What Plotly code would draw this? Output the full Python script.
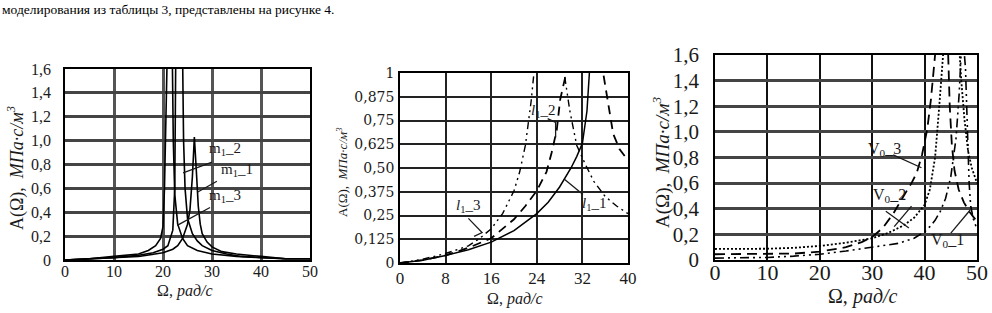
import plotly.graph_objects as go

W, H = 992, 313

# ---------------- data ----------------
# Panel 1: A(Ω) for m1 variants, Ω 0..50 rad/s
m1_2_x = [0, 5, 10, 15, 17, 18.5, 19.5, 20.0, 20.3, 20.5, 20.7, 21.3, 21.9, 22.1, 22.4, 23, 24, 25, 27, 30, 35, 40, 45, 50]
m1_2_y = [0, 0.01, 0.03, 0.05, 0.08, 0.12, 0.18, 0.28, 0.6, 1.0, 1.7, 2.6, 1.7, 1.0, 0.55, 0.3, 0.18, 0.12, 0.08, 0.05, 0.03, 0.02, 0.01, 0.01]
m1_1_x = [0, 5, 10, 15, 18, 20, 21, 22, 22.4, 22.6, 23.3, 24.0, 24.2, 24.5, 25, 26, 27, 28, 30, 33, 36, 40, 45, 50]
m1_1_y = [0, 0.01, 0.02, 0.04, 0.06, 0.09, 0.12, 0.25, 0.6, 1.7, 2.6, 1.7, 1.0, 0.6, 0.35, 0.22, 0.16, 0.12, 0.08, 0.05, 0.03, 0.02, 0.01, 0.01]
m1_3_x = [0, 5, 10, 15, 20, 22, 23, 24, 25, 25.5, 26, 26.4, 26.8, 27.2, 27.6, 28, 29, 30, 32, 35, 40, 45, 50]
m1_3_y = [0, 0.01, 0.02, 0.03, 0.06, 0.09, 0.12, 0.18, 0.3, 0.42, 0.7, 1.03, 0.75, 0.45, 0.3, 0.22, 0.15, 0.11, 0.07, 0.05, 0.03, 0.01, 0.01]

# Panel 2: A(Ω) for l1 variants, Ω 0..40 rad/s
l1_1_x = [0, 4, 8, 12, 16, 20, 24, 26, 28, 29, 30, 31, 32, 32.8, 33.3, 33.8, 34.5]
l1_1_y = [0, 0.015, 0.04, 0.07, 0.11, 0.17, 0.26, 0.32, 0.4, 0.45, 0.5, 0.56, 0.63, 0.8, 1.0, 1.3, 1.6]
l1_2_x = [0, 4, 8, 12, 16, 18, 20, 22, 24, 25.7, 26.6, 27.5, 28.1, 29, 30, 32, 34, 35.6, 36.5, 37.4, 38.5, 40]
l1_2_y = [0, 0.015, 0.04, 0.08, 0.13, 0.18, 0.23, 0.3, 0.38, 0.48, 0.58, 0.7, 0.86, 0.98, 1.2, 1.5, 1.3, 1.0, 0.85, 0.68, 0.6, 0.54]
l1_3_x = [0, 4, 8, 12, 14, 16, 18, 20, 21, 22, 23, 23.5, 24.5, 26, 27.5, 28.8, 29.8, 31, 32.5, 34, 36, 38, 40]
l1_3_y = [0, 0.02, 0.05, 0.09, 0.13, 0.18, 0.26, 0.38, 0.48, 0.62, 0.85, 1.0, 1.3, 1.5, 1.3, 1.0, 0.8, 0.62, 0.52, 0.43, 0.35, 0.3, 0.26]

# Panel 3: A(Ω) for V0 variants, Ω 0..50 rad/s
v0_1_x = [0, 5, 10, 15, 20, 25, 30, 35, 38, 40, 41, 42, 43, 44, 45, 46, 46.6, 47.2, 47.8, 48.2, 48.5, 48.8, 49.3, 50]
v0_1_y = [0.015, 0.015, 0.02, 0.03, 0.045, 0.07, 0.1, 0.13, 0.17, 0.22, 0.26, 0.31, 0.38, 0.48, 0.65, 0.95, 1.3, 1.8, 1.5, 1.0, 0.6, 0.42, 0.32, 0.24]
v0_2_x = [0, 5, 10, 15, 20, 25, 30, 33, 36, 38, 40, 41, 42, 42.7, 43.3, 44.2, 45, 45.8, 46.5, 47, 47.6, 48.3, 49, 49.6, 50]
v0_2_y = [0.086, 0.086, 0.088, 0.095, 0.11, 0.135, 0.17, 0.21, 0.27, 0.33, 0.43, 0.55, 0.8, 1.15, 1.6, 2.2, 2.4, 2.2, 1.7, 1.4, 1.1, 0.85, 0.72, 0.64, 0.6]
v0_3_x = [0, 5, 10, 15, 20, 25, 28, 30, 32, 34, 36, 37.5, 38.5, 39.5, 40.5, 41.2, 42, 43, 44, 44.5, 44.8, 45.2, 45.7, 46.5, 47.5, 48.5, 50]
v0_3_y = [0.045, 0.045, 0.045, 0.05, 0.065, 0.1, 0.14, 0.18, 0.25, 0.36, 0.5, 0.6, 0.68, 0.82, 1.02, 1.25, 1.6, 2.2, 2.0, 1.6, 1.2, 0.9, 0.7, 0.55, 0.45, 0.38, 0.3]

# tick labels
p1_xticks = [0, 10, 20, 30, 40, 50]
p1_yticks = [0, 0.2, 0.4, 0.6, 0.8, 1.0, 1.2, 1.4, 1.6]
p1_ylabels = ["0", "0,2", "0,4", "0,6", "0,8", "1,0", "1,2", "1,4", "1,6"]
p2_xticks = [0, 8, 16, 24, 32, 40]
p2_yticks = [0, 0.125, 0.25, 0.375, 0.5, 0.625, 0.75, 0.875, 1]
p2_ylabels = ["0", "0,125", "0,25", "0,375", "0,50", "0,625", "0,75", "0,875", "1"]
p3_xticks = [0, 10, 20, 30, 40, 50]
p3_yticks = p1_yticks
p3_ylabels = p1_ylabels

# curve labels: (text, text x, text y, pointer polyline xs, ys)
p1_labels = [
    ("m<sub>1</sub>_2", 32.6, 0.93, [30.0, 24.1], [0.82, 0.73]),
    ("m<sub>1</sub>_1", 35.0, 0.75, [31.0, 27.1], [0.66, 0.57]),
    ("m<sub>1</sub>_3", 32.6, 0.54, [29.6, 22.9], [0.44, 0.29]),
]
p2_labels = [
    ("<i>l</i><sub>1</sub>_2", 25.0, 0.80, [25.9, 27.3, 27.3], [0.76, 0.74, 0.66]),
    ("<i>l</i><sub>1</sub>_1", 34.0, 0.31, [32.1, 28.9], [0.36, 0.44]),
    ("<i>l</i><sub>1</sub>_3", 12.0, 0.30, [12.0, 14.4, 13.0], [0.235, 0.16, 0.14]),
]
p3_labels = [
    ("V<sub>0</sub>_3", 32.3, 0.86, [34.0, 39.4], [0.82, 0.72]),
    ("V<sub>0</sub>_2", 33.3, 0.50, [32.6, 37.0, None, 34.2, 37.5], [0.38, 0.25, None, 0.26, 0.42]),
    ("V<sub>0</sub>_1", 44.4, 0.15, [45.0, 48.7], [0.21, 0.39]),
]

# ---------------- figure ----------------
SERIF = "Liberation Serif, Times New Roman, serif"
INK = "#1a1a1a"
fig = go.Figure()


def xdom(a, b):
    return [a / W, b / W]


def ydom(top, bot):
    return [1 - bot / H, 1 - top / H]


def add_curve(xs, ys, xa, ya, dash, width=1.5):
    fig.add_trace(go.Scatter(x=xs, y=ys, xaxis=xa, yaxis=ya, mode="lines",
                             line=dict(color="black", width=width, dash=dash),
                             hoverinfo="skip", showlegend=False))


# panel 1
add_curve(m1_2_x, m1_2_y, "x", "y", "solid", 1.6)
add_curve(m1_1_x, m1_1_y, "x", "y", "solid", 1.6)
add_curve(m1_3_x, m1_3_y, "x", "y", "solid", 1.6)
# panel 2
add_curve(l1_1_x, l1_1_y, "x2", "y2", "solid", 1.5)
add_curve(l1_2_x, l1_2_y, "x2", "y2", "9px,6px", 1.8)
add_curve(l1_3_x, l1_3_y, "x2", "y2", "7px,4px,2px,4px,2px,4px", 1.4)
# panel 3
add_curve(v0_1_x, v0_1_y, "x3", "y3", "9px,4px,2px,4px,2px,4px", 1.6)
add_curve(v0_2_x, v0_2_y, "x3", "y3", "2px,2px", 1.8)
add_curve(v0_3_x, v0_3_y, "x3", "y3", "10px,6px", 1.8)

annotations = []
for labels, xa, ya in [(p1_labels, "x", "y"), (p2_labels, "x2", "y2"), (p3_labels, "x3", "y3")]:
    for text, tx, ty, lx, ly in labels:
        fig.add_trace(go.Scatter(x=lx, y=ly, xaxis=xa, yaxis=ya, mode="lines",
                                 line=dict(color=INK, width=1.3),
                                 hoverinfo="skip", showlegend=False))
        annotations.append(dict(x=tx, y=ty, xref=xa, yref=ya, text=text, showarrow=False,
                                xanchor="center", yanchor="middle",
                                font=dict(family=SERIF, size=16 if xa == "x3" else 15, color=INK)))

axis_common = dict(showgrid=True, zeroline=False, showline=True, mirror=True, automargin=False,
                   linecolor="black", linewidth=1.5, ticks="", color=INK)

fig.update_layout(
    template="none",
    width=W, height=H, margin=dict(l=0, r=0, t=0, b=0, pad=0),
    paper_bgcolor="white", plot_bgcolor="white",
    font=dict(family=SERIF, color=INK),
    xaxis=dict(domain=xdom(65, 310), range=[0, 50], anchor="y",
               tickvals=p1_xticks, ticktext=[str(v) for v in p1_xticks],
               gridcolor="#555", gridwidth=2.5, tickfont=dict(family=SERIF, size=16, color=INK),
               ticklabelstandoff=-4, **axis_common),
    yaxis=dict(domain=ydom(69, 260), range=[0, 1.6], anchor="x",
               tickvals=p1_yticks, ticktext=p1_ylabels,
               gridcolor="#444", gridwidth=2.5, tickfont=dict(family=SERIF, size=16, color=INK),
               ticklabelstandoff=9, **axis_common),
    xaxis2=dict(domain=xdom(400, 628), range=[0, 40], anchor="y2",
                tickvals=p2_xticks, ticktext=[str(v) for v in p2_xticks],
                gridcolor="#222", gridwidth=2, tickfont=dict(family=SERIF, size=17, color=INK),
                ticklabelstandoff=-1, **axis_common),
    yaxis2=dict(domain=ydom(73, 263), range=[0, 1], anchor="x2",
                tickvals=p2_yticks, ticktext=p2_ylabels,
                gridcolor="#222", gridwidth=2, tickfont=dict(family="DejaVu Serif, serif", size=14, color=INK),
                ticklabelstandoff=1, **axis_common),
    xaxis3=dict(domain=xdom(715, 977), range=[0, 50], anchor="y3",
                tickvals=p3_xticks, ticktext=[str(v) for v in p3_xticks],
                gridcolor="#111", gridwidth=2, tickfont=dict(family=SERIF, size=22, color=INK),
                ticklabelstandoff=-8, **axis_common),
    yaxis3=dict(domain=ydom(55, 260), range=[0, 1.6], anchor="x3",
                tickvals=p3_yticks, ticktext=p3_ylabels,
                gridcolor="#444", gridwidth=2.5, tickfont=dict(family=SERIF, size=21, color=INK),
                ticklabelstandoff=10, **axis_common),
)

# axis titles and caption as paper annotations
ytitle = "A(Ω),  <i>МПа·с/м<sup>3</sup></i>"
xtitle = "Ω, <i>рад/с</i>"


def paper_text(xp, yp, text, size, angle=0, color=INK):
    return dict(x=xp / W, y=1 - yp / H, xref="paper", yref="paper", text=text,
                showarrow=False, xanchor="center", yanchor="middle", textangle=angle,
                font=dict(family=SERIF, size=size, color=color))


annotations += [
    dict(x=0, y=1, xref="paper", yref="paper", xanchor="left", yanchor="top",
         text="моделирования из таблицы 3, представлены на рисунке 4.",
         showarrow=False, font=dict(family=SERIF, size=13.5, color="black")),
    paper_text(185, 291, xtitle, 16),
    paper_text(515, 299, xtitle, 16),
    paper_text(863, 296, xtitle, 20),
    paper_text(16, 168, ytitle, 18, -90),
    paper_text(342, 172, ytitle, 13, -90),
    paper_text(661, 163, ytitle, 19, -90),
]
fig.update_layout(annotations=annotations)

fig.write_html("out.html", config={"displayModeBar": False},
               post_script="document.body.style.margin='0';")
